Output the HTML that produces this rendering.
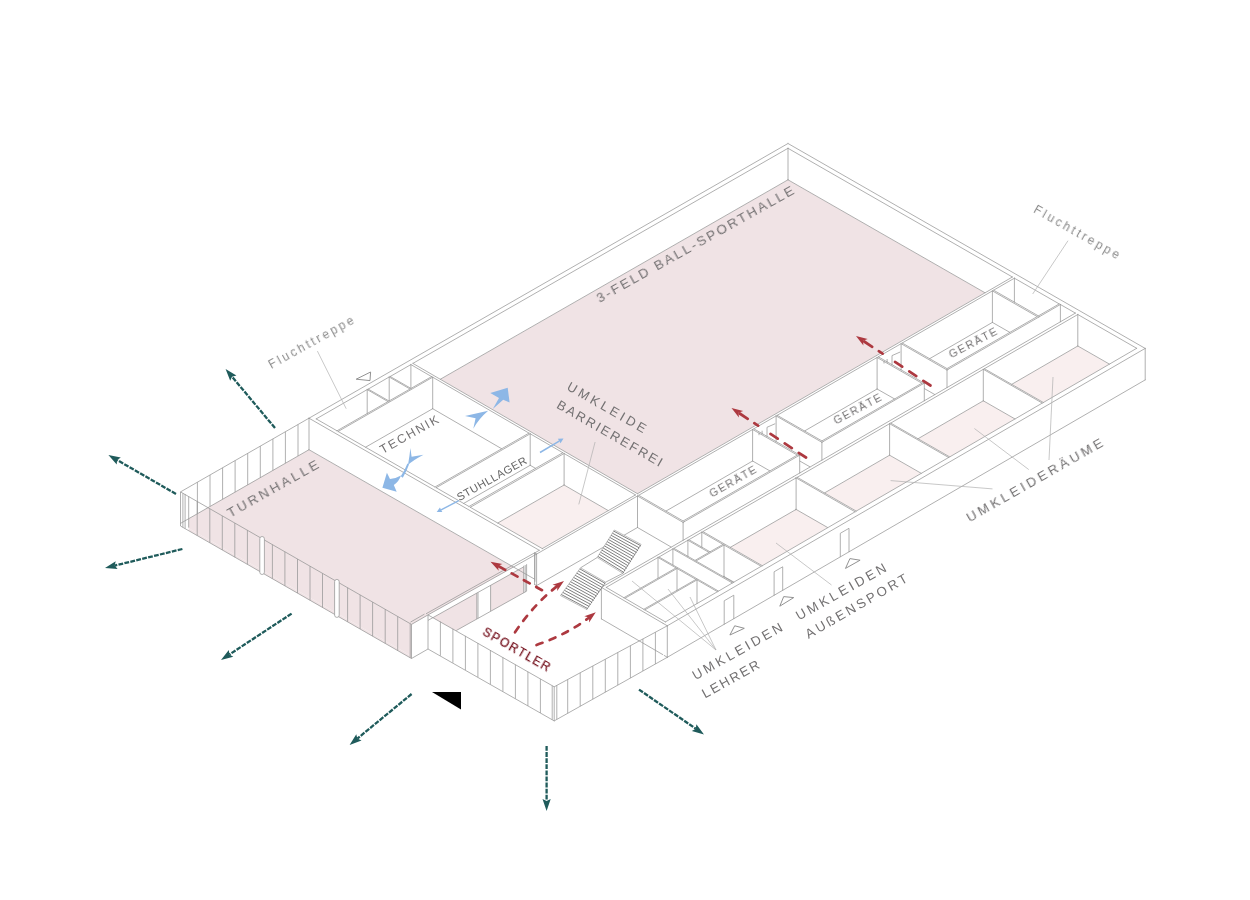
<!DOCTYPE html>
<html lang="de"><head><meta charset="utf-8"><title>Sporthalle – Axonometrie</title>
<style>
html,body{margin:0;padding:0;background:#fff}
body{width:1250px;height:900px;overflow:hidden;font-family:"Liberation Sans",sans-serif}
svg{display:block}
svg text{font-family:"Liberation Sans",sans-serif}
</style></head><body>
<svg width="1250" height="900" viewBox="0 0 1250 900" role="img" aria-label="Axonometrie Sporthalle">
<rect width="1250" height="900" fill="#fff"/>
<g id="floors">
<polygon points="788,179.6 1014,309.2 638,524.8 412,395.2" fill="#f0e3e5"/>
<polygon points="309,449.7 540,582.2 411.5,655.9 180.5,523.4" fill="#f0e3e5"/>
<polygon points="565,484.1 638,526 542.5,580.8 469.5,538.9" fill="#f9efef"/>
<polygon points="1077.5,345.6 1140,381.5 1045.5,435.7 983,399.8" fill="#f9efef"/>
<polygon points="982.5,400.1 1045,435.9 951.2,489.7 888.7,453.9" fill="#f9efef"/>
<polygon points="888.2,454.2 950.7,490 857.2,543.6 794.7,507.8" fill="#f9efef"/>
<polygon points="794.2,508.1 856.7,543.9 762.8,597.8 700.3,561.9" fill="#f9efef"/>
</g>
<path id="walls" d="M601.2 619 L667.3 657.5 L1145.4 380 L1145.4 348.2 L788 143.3 L308.8 418.1 L308.8 449.8 L534.4 579.2 L534.4 584.6 L536.6 585.9 L637.5 527.8 L670.9 547.1 L601.2 587.3Z M1077.8 346.2 L1109 364.2 L1043.4 402.3 L1012.1 384.3Z M1014.6 419 L949.7 456.7 L918.4 438.7 L983.3 401Z M930 358.7 L992.4 322.6 L1009.4 332.4 L947 368.4Z M440.6 379.3 L788 180 L984.6 292.8 L637.5 493.5Z M924.5 388.8 L934.5 394.6 L924.5 400.4Z M920.9 473.4 L856.2 510.9 L824.9 492.9 L889.6 455.4Z M894.1 399 L821.9 440.6 L805 430.9 L877.1 389.2Z M730.7 547.3 L796.1 509.6 L827.4 527.6 L762.3 565.4Z M799.9 461.4 L809.7 467 L799.9 472.7Z M666.3 511.1 L752.6 461.2 L769.5 470.9 L683.1 520.8Z M723.9 576.8 L724 576.7 L733.5 582.1 L733.4 582.2Z M564.1 485.2 L607.9 510.6 L542.3 548.3 L498.2 523Z M464.1 503.5 L530.2 465.5 L535.1 468.4 L469 506.3Z M435 486.8 L366 447.2 L432.7 408.9 L501.3 448.8Z" fill="#fff" fill-rule="evenodd"/>
<g id="glazing-fill">
<polygon points="541.3,551.4 428,614.9 428,646.4 541.3,582.9" fill="#fff" stroke="none" stroke-width="0.75"/>
<polygon points="476.8,593.1 428,620.4 428,646.4 476.8,619.1" fill="#f0e3e5" stroke="none" stroke-width="0.75"/>
<polygon points="523.6,566.9 490.6,585.3 490.6,611.3 523.6,592.9" fill="#f0e3e5" stroke="none" stroke-width="0.75"/>
<polygon points="428,614.9 411.5,624.4 411.5,658.5 428,649" fill="#fff" stroke="none" stroke-width="0.75"/>
<polygon points="180.5,523.4 411.5,655.9 411.5,658.5 180.5,526" fill="#f0e3e5" stroke="none" stroke-width="0.75"/>
<polygon points="179,490 188.6,490 188.6,535 179,535" fill="#fff" stroke="none" stroke-width="0.75"/>
<polygon points="428,614.9 554.2,686.8 554.2,720.9 428,649" fill="#fff" stroke="none" stroke-width="0.75"/>
<polygon points="667.3,625.8 554.2,686.8 554.2,720.9 667.3,657.3" fill="#fff" stroke="none" stroke-width="0.75"/>
</g>
<path id="edges" d="M1060.4 304.5L1075.4 313.1M1060.4 304.5L1060.4 321.8M1075.4 313.1L793.2 476.8M793.2 476.8L601.4 587.4M601.4 587.4L663 623.3M601.4 618.9L662.8 654.6M601.4 587.4L601.4 618.9M663 623.3L667.3 625.8M664.3 655.5L667.3 657.3M667.3 625.8L1145.2 348.4M667.3 657.3L1145.2 379.9M667.3 625.8L667.3 657.3M1145.2 348.4L788 143.5M1145.2 348.4L1145.2 379.9M788 143.5L309 418.2M309 418.2L539.3 550.3M309 449.7L534.5 579.1M309 418.2L309 449.7M539.3 550.3L534.6 553M534.6 553L536.6 554.1M534.6 584.5L536.6 585.6M534.6 553L534.6 584.5M536.6 554.1L637.5 496M536.6 585.6L637.5 527.5M536.6 554.1L536.6 585.6M637.5 496L683.1 522.4M637.5 527.5L671.1 547M637.5 496L637.5 527.5M683.1 522.4L684.3 521.7M683.1 522.4L683.1 540.3M684.3 521.7L798.5 455.8M798.5 455.8L799.7 455.1M799.7 455.1L753.8 428.8M799.7 455.1L799.7 473.1M753.8 428.8L776.1 415.9M776.1 415.9L821.9 442.3M799.9 461.1L809.9 466.8M776.1 415.9L776.1 441.5M821.9 442.3L823.1 441.6M821.9 442.3L821.9 460.2M823.1 441.6L923.1 383.8M923.1 383.8L924.3 383.2M924.3 383.2L878.3 356.8M924.3 383.2L924.3 400.8M878.3 356.8L901.1 343.7M901.1 343.7L947 370M924.4 388.6L934.7 394.5M901.1 343.7L901.1 369.8M947 370L948.2 369.3M947 370L947 387.6M948.2 369.3L1038.4 317.3M1038.4 317.3L1039.6 316.6M1039.6 316.6L1060.4 304.5M644.8 609.9L697 579.9M697 579.9L717.5 591.7M697 579.9L697 603.6M717.5 591.7L665.4 621.9M665.4 621.9L644.8 609.9M659 557L672.9 548.9M672.9 548.9L732.4 583M672.9 548.9L672.9 565M732.4 583L718.5 591.1M718.5 591.1L659 557M696 561L724 545M723.5 576.7L724 576.5M724 545L761.2 566.3M724 576.5L733.8 582.1M724 545L724 576.5M761.2 566.3L733.4 582.4M733.4 582.4L696 561M855.1 511.8L762.3 565.7M762.3 565.7L702.9 531.6M702.9 531.6L795.6 478.2M730.4 547.3L795.6 509.7M795.6 478.2L796.1 477.9M795.6 509.7L796.1 509.4M796.1 477.9L855.1 511.8M796.1 509.4L827.6 527.5M796.1 477.9L796.1 509.4M856.2 511.1L797.2 477.3M797.2 477.3L889.6 423.7M824.6 492.9L889.6 455.2M889.6 423.7L948.6 457.5M889.6 455.2L921.2 473.3M889.6 423.7L889.6 455.2M948.6 457.5L856.2 511.1M949.7 456.9L890.7 423.1M890.7 423.1L983.3 369.3M918.1 438.7L983.3 400.8M983.3 369.3L1042.3 403.1M983.3 400.8L1014.9 418.9M983.3 369.3L983.3 400.8M1042.3 403.1L949.7 456.9M1136.7 348.3L1043.4 402.5M1043.4 402.5L984.4 368.7M984.4 368.7L1077.8 314.5M1011.8 384.3L1077.8 346M1077.8 314.5L1136.7 348.3M1077.8 346L1109.4 364.1M1077.8 314.5L1077.8 346M677 568.5L696 579.4M677 568.5L677 590.3M696 579.4L643.8 609.3M643.8 609.3L624.9 598.3M624.9 598.3L677 568.5M688.9 539.7L701.8 532.2M701.8 532.2L723 544.4M701.8 532.2L701.8 547.2M723 544.4L710 551.8M710 551.8L688.9 539.7M695 560.4L673.9 548.3M673.9 548.3L687.9 540.3M687.9 540.3L709 552.4M687.9 540.3L687.9 556.4M709 552.4L695 560.4M623.9 597.7L606.2 587.4M606.2 587.4L658 557.5M658 557.5L676 567.9M658 557.5L658 578.2M676 567.9L623.9 597.7M797.3 455.1L683.1 521M683.1 521L638.7 495.3M638.7 495.3L752.6 429.5M666.1 511L752.6 461M752.6 429.5L797.3 455.1M752.6 461L769.7 470.8M752.6 429.5L752.6 461M777.2 415.3L877.1 357.5M804.7 430.9L877.1 389M877.1 357.5L921.9 383.2M877.1 389L894.5 398.9M877.1 357.5L877.1 389M921.9 383.2L821.9 440.9M821.9 440.9L777.2 415.3M902.2 343L992.4 290.9M929.6 358.7L992.4 322.4M992.4 290.9L1037.2 316.6M992.4 322.4L1009.7 332.3M992.4 290.9L992.4 322.4M1037.2 316.6L947 368.6M947 368.6L902.2 343M993.6 290.2L1014.4 278.2M1014.4 278.2L1059.2 303.9M1014.4 278.2L1014.4 302.1M1059.2 303.9L1038.4 315.9M1038.4 315.9L993.6 290.2M470.3 507.3L564.1 453.5M497.8 523L564.1 485M564.1 453.5L635.5 494.9M564.1 485L608.1 510.5M564.1 453.5L564.1 485M635.5 494.9L542.3 548.6M542.3 548.6L470.3 507.3M412.9 363.4L788 148.3M440.4 379.2L788 179.8M788 148.3L1012.4 277M788 179.8L984.9 292.7M788 148.3L788 179.8M1012.4 277L637.5 493.7M637.5 493.7L412.9 363.4M436.2 487.7L530.2 433.8M463.7 503.4L530.2 465.3M530.2 433.8L562.8 452.7M530.2 465.3L535.4 468.3M530.2 433.8L530.2 465.3M562.8 452.7L469 506.5M469 506.5L436.2 487.7M338.1 431.5L432.7 377.2M365.6 447.2L432.7 408.7M432.7 377.2L529 433.1M432.7 408.7L501.6 448.7M432.7 377.2L432.7 408.7M529 433.1L435 487M435 487L338.1 431.5M410 389L389 401M389 401L368.2 389.1M368.2 389.1L389.2 377M389.2 377L410 389M389.2 377L389.2 400.9M431.6 376.6L411 388.4M411 388.4L390.2 376.5M390.2 376.5L410.9 364.6M410.9 364.6L431.6 376.6M410.9 364.6L410.9 388.3M388 401.6L337 430.8M337 430.8L316.2 418.9M316.2 418.9L367.2 389.6M367.2 389.6L388 401.6M367.2 389.6L367.2 413.5" fill="none" stroke="#969696" stroke-width="0.75" stroke-linecap="round"/>
<path id="glazing" d="M309 418.2L180.5 491.9M309 449.7L180.5 523.4M298 424.5L298 456M285.4 431.7L285.4 463.2M272.9 438.9L272.9 470.4M260.3 446.1L260.3 477.6M247.7 453.4L247.7 484.9M235.1 460.6L235.1 492.1M222.6 467.8L222.6 499.3M210 475L210 506.5M197.4 482.2L197.4 513.7M180.5 491.9L411.5 624.4M180.5 526L411.5 658.5M180.5 491.9L180.5 526M197.2 501.5L197.2 535.6M209.8 508.7L209.8 542.8M222.3 515.9L222.3 550M234.8 523.1L234.8 557.2M247.4 530.2L247.4 564.3M272.4 544.6L272.4 578.7M284.9 551.8L284.9 585.9M297.5 559L297.5 593.1M310 566.2L310 600.3M322.5 573.4L322.5 607.5M347.6 587.7L347.6 621.8M360.1 594.9L360.1 629M372.6 602.1L372.6 636.2M385.2 609.3L385.2 643.4M397.7 616.5L397.7 650.6M410.2 623.7L410.2 657.8M411.5 624.4L411.5 658.5M182.9 493.3L182.9 527.4M185.1 494L185.1 528.6M188.7 496.6L188.7 527.6M411.5 624.4L428 614.9M411.5 658.5L428 649M428 614.9L428 649M410.5 622.1L424.5 614.1M428 614.9L554.2 686.8M428 649L554.2 720.9M540.4 678.9L540.4 713M527.9 671.8L527.9 705.9M515.4 664.6L515.4 698.7M502.9 657.4L502.9 691.5M490.4 650.2L490.4 684.3M477.9 643.1L477.9 677.2M465.4 635.9L465.4 670M452.9 628.7L452.9 662.8M440.4 621.6L440.4 655.7M554.2 686.4L554.2 721.3M552.2 685.7L552.2 719.8M556.8 685.3L556.8 719.4M554.2 686.8L667.3 625.8M554.2 720.9L667.3 657.3M567.7 679.5L567.7 713.3M580.2 672.8L580.2 706.3M592.8 666L592.8 699.2M605.3 659.2L605.3 692.2M617.8 652.5L617.8 685.1M630.4 645.7L630.4 678.1M642.9 638.9L642.9 671M655.4 632.2L655.4 664M536.5 554.1L428 614.9M534.5 552.9L426 613.8M523.6 566.9L428 620.4M476.8 593.1L476.8 619.1M478 592.4L478 618.4M490.6 585.3L490.6 611.3M523.7 565.8L523.7 592.8M525.2 565L525.2 592M526.6 564.2L526.6 591.2M534.9 554.2L534.9 581.7M526.6 591.2L456.3 630.5" fill="none" stroke="#969696" stroke-width="0.75"/>
<rect x="259.8" y="536.5" width="4.6" height="38" rx="2.3" fill="#fff" stroke="#969696" stroke-width="0.75"/>
<rect x="334.6" y="579.4" width="4.6" height="38" rx="2.3" fill="#fff" stroke="#969696" stroke-width="0.75"/>
<polygon points="614.4,530 641.1,544.4 622.8,573.3 597.2,557.5" fill="#fff" stroke="#969696" stroke-width="0.6"/>
<path d="M613.7 531.1L640.4 545.5M612.4 533.2L639 547.7M611.1 535.3L637.6 550M609.8 537.4L636.2 552.2M608.4 539.5L634.8 554.4M607.1 541.6L633.4 556.6M605.8 543.8L632 558.8M604.5 545.9L630.5 561.1M603.2 548L629.1 563.3M601.8 550.1L627.7 565.5M600.5 552.2L626.3 567.7M599.2 554.3L624.9 570M597.9 556.4L623.5 572.2" fill="none" stroke="#808080" stroke-width="1"/>
<path d="M640.4 545.5L639.9 546.6M639 547.7L638.5 548.8M637.6 550L637.1 551.1M636.2 552.2L635.7 553.3M634.8 554.4L634.3 555.5M633.4 556.6L632.9 557.7M632 558.8L631.4 560M630.5 561.1L630 562.2M629.1 563.3L628.6 564.4M627.7 565.5L627.2 566.6M626.3 567.7L625.8 568.9M624.9 570L624.4 571.1M623.5 572.2L623 573.3" fill="none" stroke="#6a6a6a" stroke-width="0.9"/>
<polygon points="580.6,567.8 605.6,582.2 586.7,609.4 560.5,595.6" fill="#fff" stroke="#969696" stroke-width="0.6"/>
<path d="M579.8 568.9L604.9 583.2M578.3 571L603.4 585.3M576.7 573.1L602 587.4M575.2 575.3L600.5 589.5M573.6 577.4L599.1 591.6M572.1 579.6L597.6 593.7M570.5 581.7L596.2 595.8M569 583.8L594.7 597.9M567.5 586L593.2 600M565.9 588.1L591.8 602.1M564.4 590.3L590.3 604.2M562.8 592.4L588.9 606.3M561.3 594.5L587.4 608.4" fill="none" stroke="#808080" stroke-width="1"/>
<path d="M604.9 583.2L604.3 584.3M603.4 585.3L602.9 586.4M602 587.4L601.4 588.5M600.5 589.5L600 590.6M599.1 591.6L598.5 592.7M597.6 593.7L597.1 594.8M596.2 595.8L595.6 596.8M594.7 597.9L594.2 598.9M593.2 600L592.7 601M591.8 602.1L591.3 603.1M590.3 604.2L589.8 605.2M588.9 606.3L588.4 607.3M587.4 608.4L586.9 609.4" fill="none" stroke="#6a6a6a" stroke-width="0.9"/>
<path d="M597.2 557.5L580.6 567.8M622.8 573.3L605.6 582.2" fill="none" stroke="#969696" stroke-width="0.75"/>
<path id="doors" d="M724.2 624.6L724.2 600.8L733.8 595.2L733.8 619M774.1 595.6L774.1 571.8L782.7 566.8L782.7 590.6M840.3 557.1L840.3 533.3L849 528.3L849 552.1" fill="none" stroke="#969696" stroke-width="0.75"/>
<polygon points="729.9,635 744.3,628.3 734.7,625.8" fill="none" stroke="#8c8c8c" stroke-width="0.95"/>
<polygon points="779.8,606.2 793.7,597.6 783.7,596.6" fill="none" stroke="#8c8c8c" stroke-width="0.95"/>
<polygon points="845.5,568.4 860.1,560.2 849.9,558.6" fill="none" stroke="#8c8c8c" stroke-width="0.95"/>
<polygon points="356.2,379.2 370.6,372 370,380.6" fill="none" stroke="#8c8c8c" stroke-width="0.95"/>
<polygon points="432,692 461,692 461,709.6" fill="#000" stroke="none" stroke-width="0.75"/>
<path d="M892 355.6L892 365.2M887.1 359L887.1 362.7M892 355.6L900.2 352M884 361L884 363.5M767 427.3L767 436.9M762.1 430.7L762.1 434.4M767 427.3L775.2 423.7M759 432.7L759 435.2" fill="none" stroke="#969696" stroke-width="0.75"/>
<line x1="317.4" y1="351.1" x2="346.2" y2="408.7" stroke="#b0b0b0" stroke-width="0.7"/>
<line x1="1068" y1="240.7" x2="1032.7" y2="294" stroke="#b0b0b0" stroke-width="0.7"/>
<line x1="595.1" y1="442" x2="578.8" y2="504.4" stroke="#b0b0b0" stroke-width="0.7"/>
<line x1="1049" y1="460" x2="1053" y2="377" stroke="#b0b0b0" stroke-width="0.7"/>
<line x1="1028.8" y1="469.6" x2="974.4" y2="428.5" stroke="#b0b0b0" stroke-width="0.7"/>
<line x1="992.5" y1="488.9" x2="890.6" y2="480.6" stroke="#b0b0b0" stroke-width="0.7"/>
<line x1="831.5" y1="585" x2="776" y2="543" stroke="#b0b0b0" stroke-width="0.7"/>
<line x1="716" y1="650" x2="632" y2="581" stroke="#b0b0b0" stroke-width="0.7"/>
<line x1="716" y1="650" x2="668" y2="589" stroke="#b0b0b0" stroke-width="0.7"/>
<line x1="716" y1="650" x2="690" y2="597" stroke="#b0b0b0" stroke-width="0.7"/>
<line x1="275" y1="428" x2="232" y2="376.7" stroke="#1f5b5b" stroke-width="2.3" stroke-dasharray="4.8 1.3"/>
<polygon points="225.6,369 236.4,375.6 232,376.7 230.2,380.8" fill="#1f5b5b" stroke="none" stroke-width="0.75"/>
<line x1="176" y1="494" x2="117.1" y2="460" stroke="#1f5b5b" stroke-width="2.3" stroke-dasharray="4.8 1.3"/>
<polygon points="108.4,455 120.8,457.4 117.1,460 116.7,464.5" fill="#1f5b5b" stroke="none" stroke-width="0.75"/>
<line x1="182.4" y1="549" x2="114.7" y2="565.6" stroke="#1f5b5b" stroke-width="2.3" stroke-dasharray="4.8 1.3"/>
<polygon points="105,568 115.7,561.2 114.7,565.6 117.6,569.1" fill="#1f5b5b" stroke="none" stroke-width="0.75"/>
<line x1="291.6" y1="613.6" x2="229.4" y2="654.5" stroke="#1f5b5b" stroke-width="2.3" stroke-dasharray="4.8 1.3"/>
<polygon points="221,660 228.8,650 229.4,654.5 233.3,656.8" fill="#1f5b5b" stroke="none" stroke-width="0.75"/>
<line x1="411.6" y1="694" x2="357.3" y2="738.6" stroke="#1f5b5b" stroke-width="2.3" stroke-dasharray="4.8 1.3"/>
<polygon points="349.6,745 356.3,734.2 357.3,738.6 361.5,740.5" fill="#1f5b5b" stroke="none" stroke-width="0.75"/>
<line x1="546.6" y1="746" x2="546.6" y2="801" stroke="#1f5b5b" stroke-width="2.3" stroke-dasharray="4.8 1.3"/>
<polygon points="546.6,811 542.5,799 546.6,801 550.7,799" fill="#1f5b5b" stroke="none" stroke-width="0.75"/>
<line x1="639" y1="689.6" x2="695.8" y2="728.7" stroke="#1f5b5b" stroke-width="2.3" stroke-dasharray="4.8 1.3"/>
<polygon points="704,734.4 691.8,731 695.8,728.7 696.4,724.2" fill="#1f5b5b" stroke="none" stroke-width="0.75"/>
<path d="M930.5 385.5L923.3 380.8M916.3 376.1L909.2 371.4M902.2 366.7L895 361.9M882.6 353.7L878.8 351.2M872.2 346.8L864.2 341.5" fill="none" stroke="#ad3940" stroke-width="2.7" stroke-linecap="round"/>
<polygon points="856,336 867.7,339.1 863.1,340.7 863.4,345.6" fill="#ad3940" stroke="none" stroke-width="0.75"/>
<path d="M806 457.5L798.8 452.8M791.8 448.1L784.7 443.4M777.7 438.7L770.5 433.9M758.1 425.7L754.3 423.2M747.7 418.8L739.7 413.5" fill="none" stroke="#ad3940" stroke-width="2.7" stroke-linecap="round"/>
<polygon points="731.5,408 743.2,411.1 738.6,412.7 738.9,417.6" fill="#ad3940" stroke="none" stroke-width="0.75"/>
<path d="M542 590.2L536.2 587M529.7 583.4L523.9 580.2M517.5 576.6L511.7 573.4M505.2 569.9L498.6 566.2" fill="none" stroke="#ad3940" stroke-width="2.7" stroke-linecap="round"/>
<polygon points="490.5,561.7 502.4,563.9 497.9,565.8 498.7,570.7" fill="#ad3940" stroke="none" stroke-width="0.75"/>
<path d="M515 632.3Q534.5 603.5 557.6 585.8" fill="none" stroke="#ad3940" stroke-width="2.7" stroke-dasharray="6.3 7.7" stroke-dashoffset="0" stroke-linecap="round"/>
<polygon points="564,580.9 557.2,591 557.3,586.1 552.5,584.8" fill="#ad3940" stroke="none" stroke-width="0.75"/>
<path d="M536.5 645Q568 634 589.5 617.2" fill="none" stroke="#ad3940" stroke-width="2.7" stroke-dasharray="6.3 7.7" stroke-dashoffset="0" stroke-linecap="round"/>
<polygon points="595.8,612.3 589.1,622.5 589.1,617.5 584.3,616.3" fill="#ad3940" stroke="none" stroke-width="0.75"/>
<g id="blue" fill="#8db7e6" stroke="none">
<path d="M492.8 409L499 398L490.3 393L507.7 387.8L509.6 402.4L503.2 399.8Z"/>
<path d="M488.2 410.8L465 416L475.6 418.2L473.3 428.8Q479 418.5 488.2 410.8Z"/>
<path d="M410.4 448L411.6 456.8L423.5 454.8Q412.6 460.6 408 465Q409.6 456 410.4 448Z"/>
<path d="M407.4 463.6Q404.6 471 400.8 476.2L402.8 477.8Q406.6 471.4 409 464.6Z"/>
<path d="M382.4 487.8L386.9 472.7L390 479Q396 478.5 401 475.5Q399 481.5 393.8 485L396.7 491.8Z"/>
</g>
<line x1="540" y1="452.5" x2="559.2" y2="441.1" stroke="#8db7e6" stroke-width="1.5"/>
<polygon points="563.5,438.5 560.5,443.3 557.9,438.8" fill="#8db7e6" stroke="none" stroke-width="0.75"/>
<line x1="458.8" y1="500.6" x2="441.1" y2="509.8" stroke="#8db7e6" stroke-width="1.5"/>
<polygon points="436.7,512.1 439.9,507.5 442.3,512.1" fill="#8db7e6" stroke="none" stroke-width="0.75"/>
<g id="labels" font-family="Liberation Sans, sans-serif" opacity="0.999">
<text transform="translate(599.6 303) rotate(-29.3)" font-size="13.5" letter-spacing="2.25" fill="#737172">3-FELD BALL-SPORTHALLE</text>
<text transform="translate(230.4 517.8) rotate(-29.4)" font-size="13.5" letter-spacing="2.79" fill="#737172">TURNHALLE</text>
<text transform="translate(382.8 454) rotate(-29.3)" font-size="12.3" letter-spacing="1.86" fill="#737172">TECHNIK</text>
<text transform="translate(459.4 501.2) rotate(-29.4)" font-size="11" letter-spacing="0.55" fill="#666">STUHLLAGER</text>
<text transform="translate(566 389.2) rotate(29.8)" font-size="13" letter-spacing="3.20" fill="#737172">UMKLEIDE</text>
<text transform="translate(555.8 407.4) rotate(29.9)" font-size="13" letter-spacing="2.14" fill="#737172">BARRIEREFREI</text>
<text transform="translate(712 497.6) rotate(-29.5)" font-size="10.8" letter-spacing="1.51" fill="#737172">GERÄTE</text>
<text transform="translate(836 424.6) rotate(-28.0)" font-size="10.8" letter-spacing="1.59" fill="#737172">GERÄTE</text>
<text transform="translate(951.3 358.4) rotate(-27.6)" font-size="10.8" letter-spacing="1.66" fill="#737172">GERÄTE</text>
<text transform="translate(969.6 522.4) rotate(-29.7)" font-size="13.5" letter-spacing="3.09" fill="#737172">UMKLEIDERÄUME</text>
<text transform="translate(799 620.6) rotate(-29.4)" font-size="13.3" letter-spacing="2.99" fill="#737172">UMKLEIDEN</text>
<text transform="translate(808.6 638.9) rotate(-30.0)" font-size="13.3" letter-spacing="2.74" fill="#737172">AUßENSPORT</text>
<text transform="translate(695.4 680.2) rotate(-29.5)" font-size="13.3" letter-spacing="2.98" fill="#737172">UMKLEIDEN</text>
<text transform="translate(705 698.4) rotate(-28.9)" font-size="13.3" letter-spacing="1.91" fill="#737172">LEHRER</text>
<text transform="translate(271.3 369.1) rotate(-28.9)" font-size="12" letter-spacing="2.61" fill="#8a8a8a">Fluchttreppe</text>
<text transform="translate(1032.7 212) rotate(29.4)" font-size="12" letter-spacing="2.70" fill="#8a8a8a">Fluchttreppe</text>
<text transform="translate(481.8 634.3) rotate(29.8)" font-size="12" letter-spacing="1.57" fill="#74101c" stroke="#74101c" stroke-width="0.25">SPORTLER</text>
</g>
</svg>
</body></html>
